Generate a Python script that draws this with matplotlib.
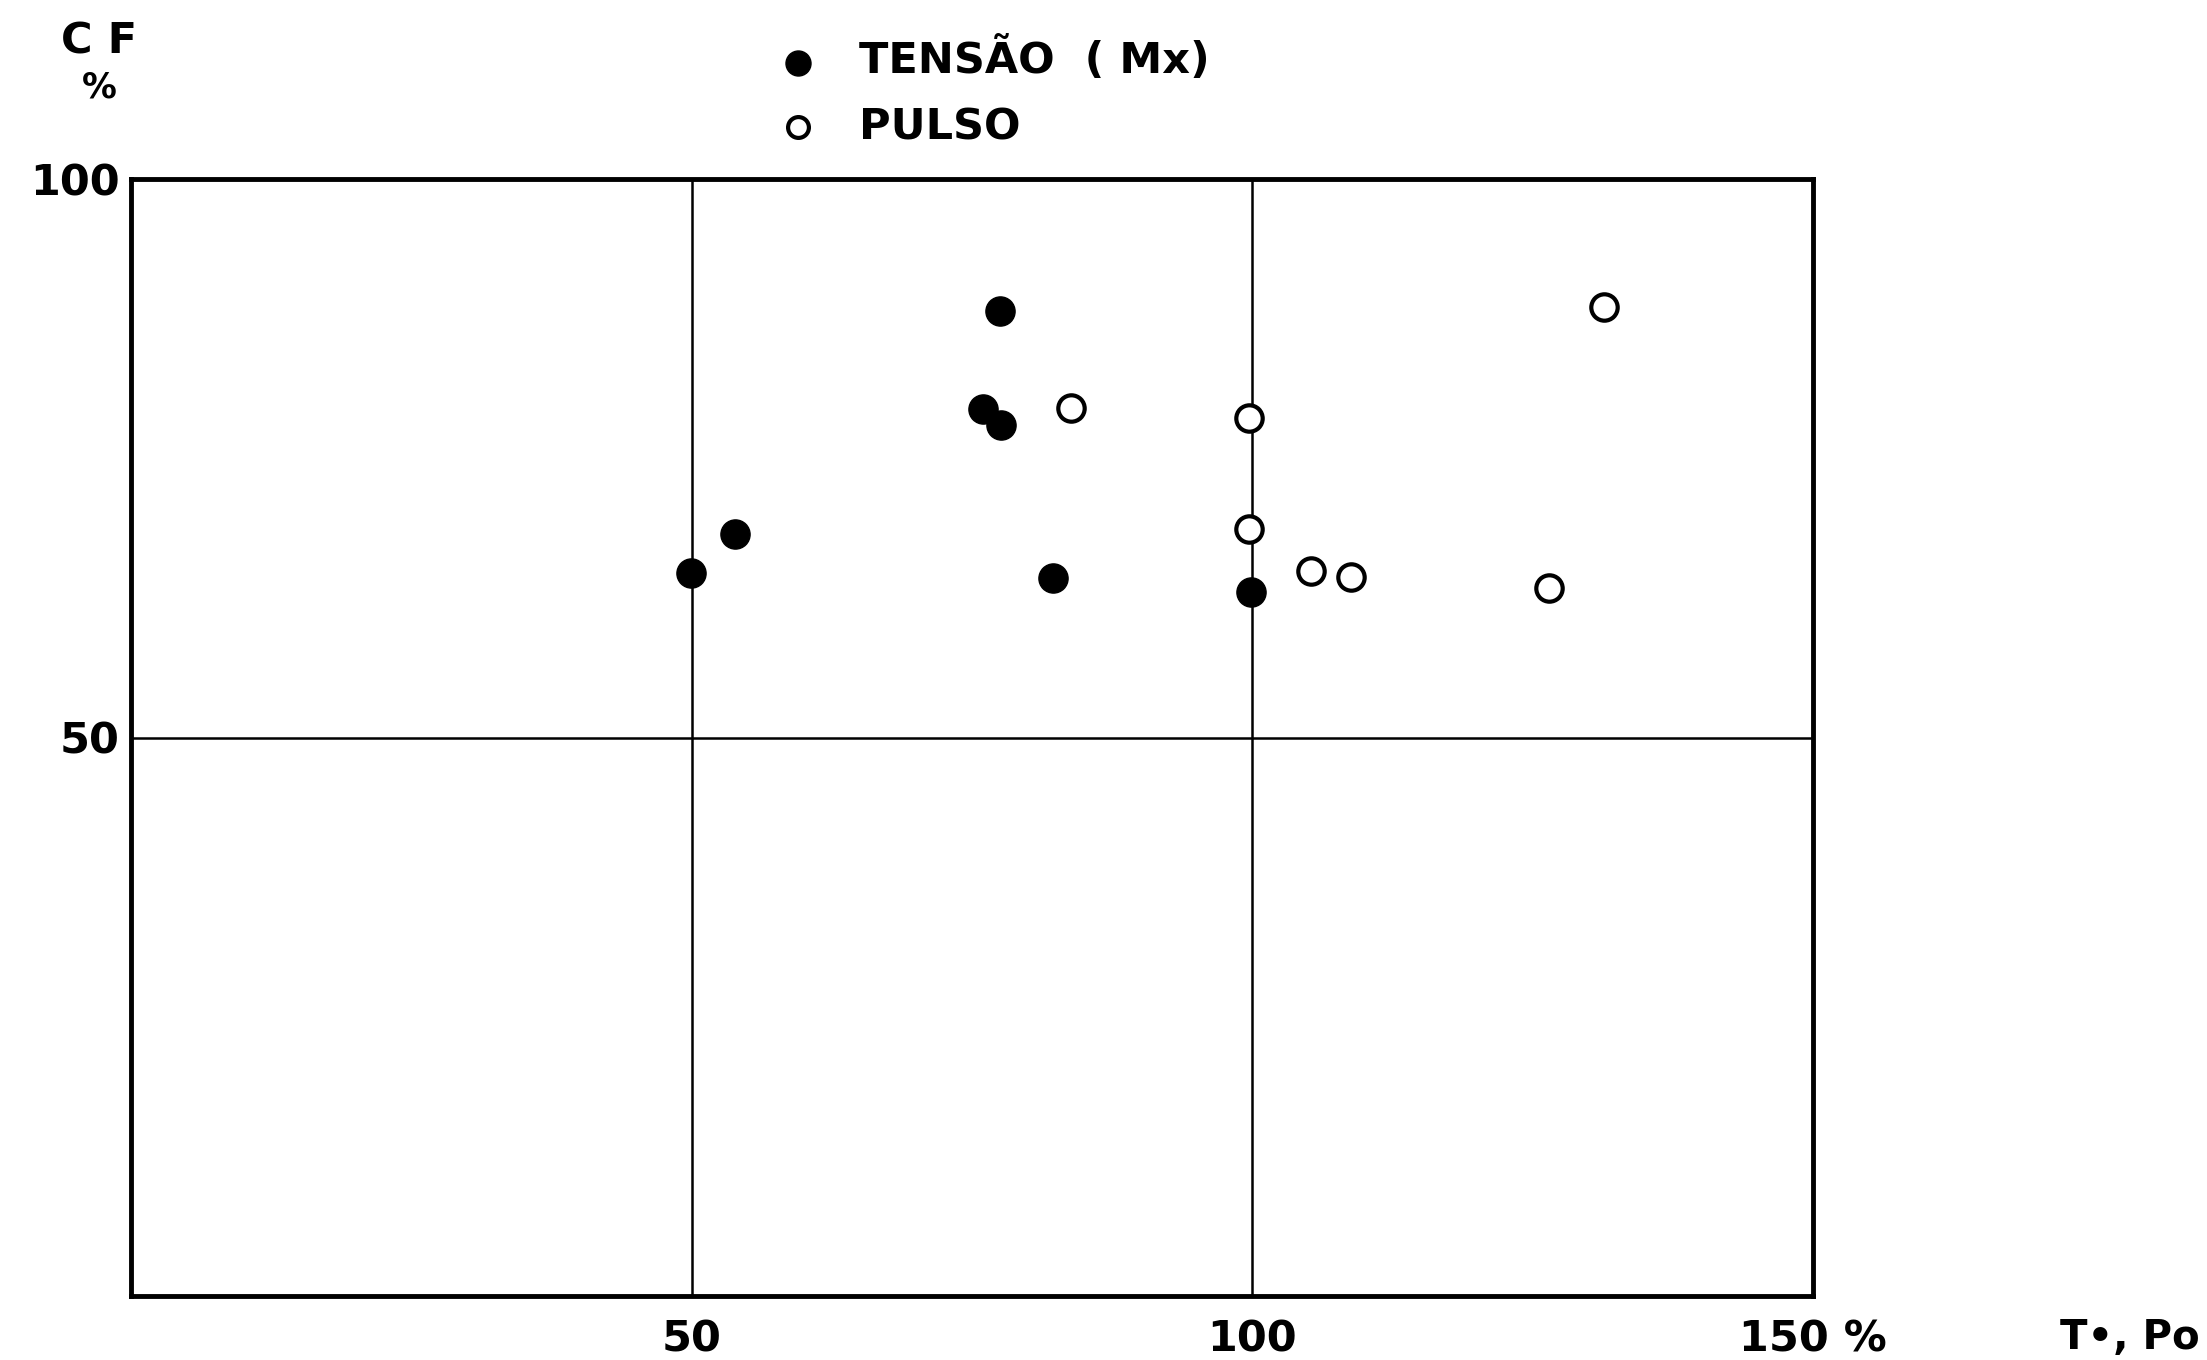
import numpy as np
import matplotlib
matplotlib.use("Agg")
import matplotlib.pyplot as plt

# dados
tensao_x = [77.5, 76.0, 77.6, 49.9, 53.9, 82.2, 99.9]
tensao_y = [88.2, 79.4, 78.0, 64.7, 68.2, 64.3, 63.0]

pulso_x = [83.8, 99.7, 99.7, 105.2, 108.8, 126.5, 131.4]
pulso_y = [79.5, 78.6, 68.7, 64.9, 64.4, 63.4, 88.5]

xticks = [50, 100, 150]
xlabels = ['50', '100', '150 %']
yticks = [50, 100]
ylabels = ['50', '100']

W, H = 2207, 1360
fig = plt.figure(figsize=(W/100, H/100), dpi=100)
ax = fig.add_axes([131/W, 1-1296/H, (1813-131)/W, (1296-179)/H])

fs = 31
fw = 'bold'

ax.plot(tensao_x, tensao_y, 'o', color='black', markersize=21, zorder=3)
ax.plot(pulso_x, pulso_y, 'o', markerfacecolor='white', markeredgecolor='black',
        markeredgewidth=3, markersize=19, zorder=3)

# linhas de grade so nos 50 / 100
for xv in [50, 100]:
    ax.axvline(xv, color='black', lw=1.8, zorder=1)
ax.axhline(50, color='black', lw=1.8, zorder=1)

ax.set_xlim(0, 150)
ax.set_ylim(0, 100)
ax.set_xticks(xticks)
ax.set_xticklabels(xlabels, fontsize=fs, fontweight=fw)
ax.set_yticks(yticks)
ax.set_yticklabels(ylabels, fontsize=fs, fontweight=fw)
ax.tick_params(axis='x', length=0, pad=16)
ax.tick_params(axis='y', length=0, pad=8)
for s in ax.spines.values():
    s.set_linewidth(3.5)

# textos soltos
fig.text(99/W, 1-42/H, 'C F', fontsize=fs, fontweight=fw, ha='center', va='center')
fig.text(99/W, 1-87/H, '%', fontsize=fs-6, fontweight=fw, ha='center', va='center')
fig.text(2200/W, 1-1338/H, 'T•, Po', fontsize=fs-2, fontweight=fw, ha='right', va='center')

# legenda
fig.lines.append(plt.Line2D([798/W], [1-63/H], marker='o', color='black', markersize=18,
                            transform=fig.transFigure, linestyle='none'))
fig.lines.append(plt.Line2D([798/W], [1-127/H], marker='o', markerfacecolor='white',
                            markeredgecolor='black', markeredgewidth=3, markersize=15,
                            transform=fig.transFigure, linestyle='none'))
fig.text(859/W, 1-60/H, 'TENSÃO  ( Mx)', fontsize=fs, fontweight=fw, ha='left', va='center')
fig.text(859/W, 1-127/H, 'PULSO', fontsize=fs, fontweight=fw, ha='left', va='center')

fig.savefig('out.png', dpi=100)
